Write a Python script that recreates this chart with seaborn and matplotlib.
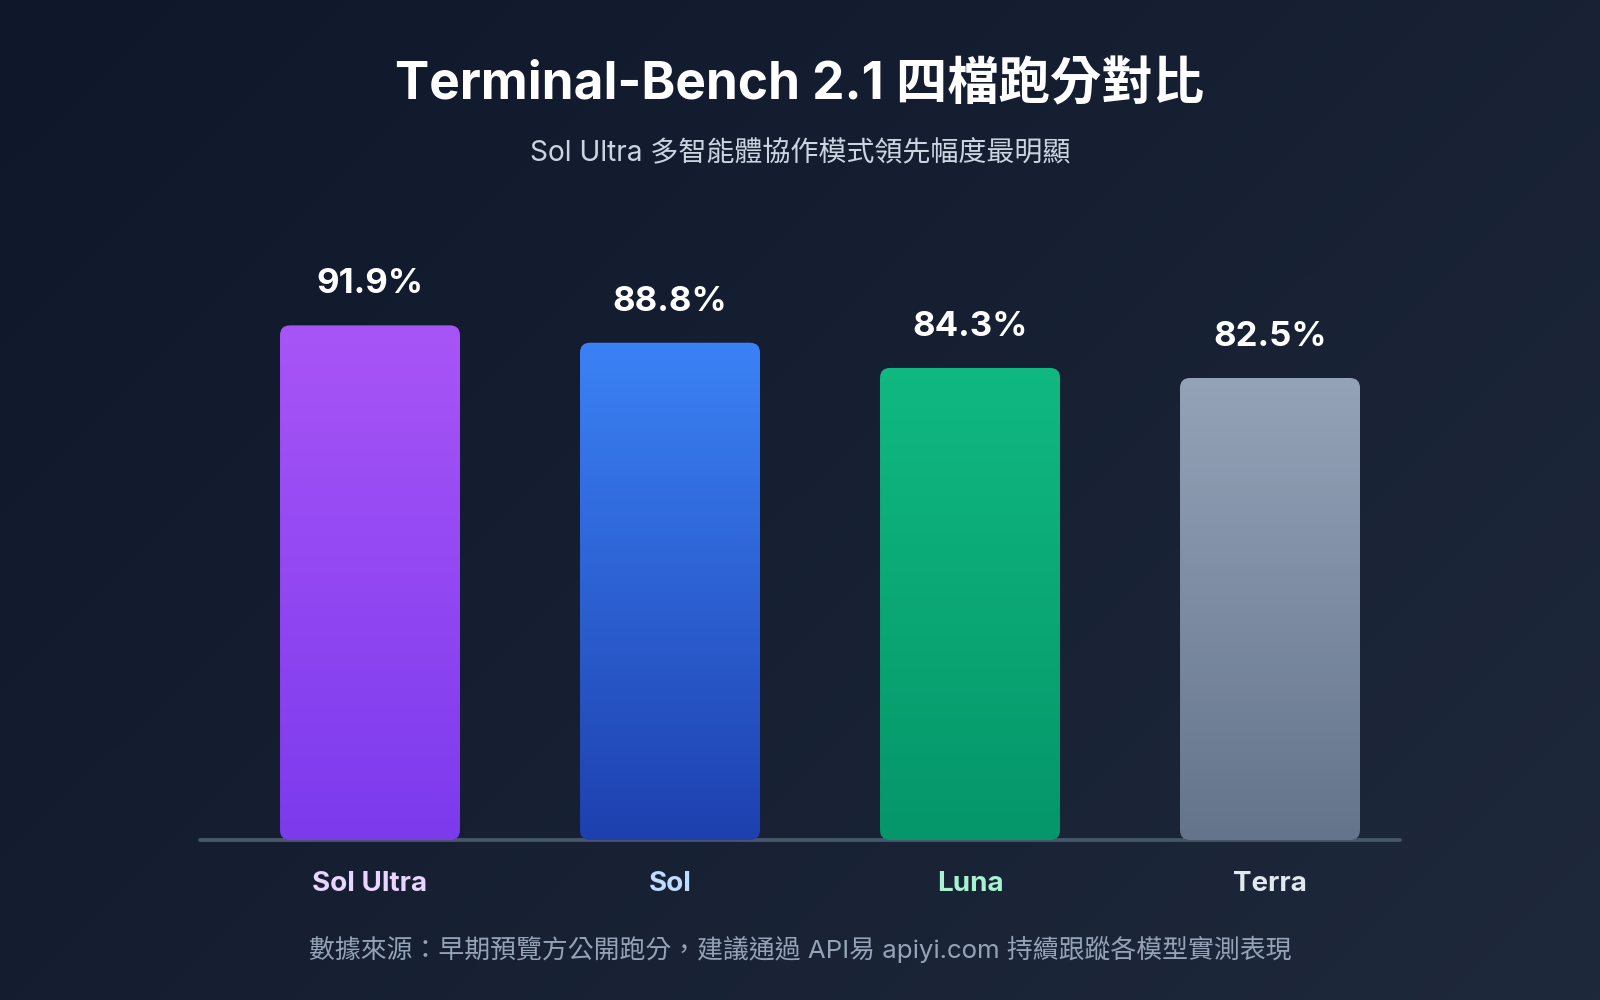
import numpy as np
import pandas as pd
import matplotlib
matplotlib.use("Agg")
import matplotlib.pyplot as plt
import seaborn as sns
from matplotlib.patches import FancyBboxPatch
from matplotlib.colors import LinearSegmentedColormap

# ---- data ----
models = ["Sol Ultra", "Sol", "Luna", "Terra"]
scores = [91.9, 88.8, 84.3, 82.5]
top_colors = ["#a855f7", "#3b82f6", "#10b981", "#94a3b8"]
bottom_colors = ["#7c3aed", "#1e40af", "#059669", "#64748b"]
label_colors = ["#e9d5ff", "#bfdbfe", "#a7f3d0", "#e2e8f0"]
title = "Terminal-Bench 2.1 四檔跑分對比"
subtitle = "Sol Ultra 多智能體協作模式領先幅度最明顯"
footer = "數據來源：早期預覽方公開跑分，建議通過 API易 apiyi.com 持續跟蹤各模型實測表現"

sns.set_theme(style="white")
plt.rcParams["font.family"] = ["Inter", "Noto Sans CJK TC", "DejaVu Sans"]

W, H = 1600, 1000
fig = plt.figure(figsize=(W / 100, H / 100), dpi=100)

# background diagonal gradient
bg = fig.add_axes([0, 0, 1, 1], zorder=-10)
yy, xx = np.mgrid[0:1:250j, 0:1:400j]
t = (xx * W + yy * H) / (W + H)
bg_cmap = LinearSegmentedColormap.from_list("bg", ["#0f172a", "#1e293b"])
bg.imshow(t, cmap=bg_cmap, aspect="auto", extent=[0, 1, 0, 1], origin="upper")
bg.set_axis_off()

# main axes
ax_left, ax_bottom, ax_w, ax_h = 200 / W, (H - 840) / H, 1200 / W, 560 / H
ax = fig.add_axes([ax_left, ax_bottom, ax_w, ax_h])
ax.set_facecolor("none")

df = pd.DataFrame({"model": models, "score": scores})
sns.barplot(data=df, x="model", y="score", ax=ax, width=0.6, color="#888888")

xlim = (-0.5667, 3.4333)
ylim = (0, 100)

xupp = (xlim[1] - xlim[0]) / 1200
yupp = (ylim[1] - ylim[0]) / 560
aspect = yupp / xupp
radius_px = 10

bars = list(ax.patches)
for i, p in enumerate(bars):
    x0, y0 = p.get_x(), p.get_y()
    w, h = p.get_width(), p.get_height()
    p.set_visible(False)
    rp = FancyBboxPatch((x0, y0), w, h,
                        boxstyle=f"round,pad=0,rounding_size={radius_px * xupp}",
                        mutation_aspect=aspect, facecolor="none",
                        edgecolor="none", zorder=2)
    ax.add_patch(rp)
    cmap = LinearSegmentedColormap.from_list(f"g{i}", [bottom_colors[i], top_colors[i]])
    grad = np.linspace(0, 1, 256).reshape(-1, 1)
    im = ax.imshow(grad, extent=[x0, x0 + w, y0, y0 + h], origin="lower",
                   aspect="auto", cmap=cmap, zorder=2)
    im.set_clip_path(rp)
    ax.annotate(f"{scores[i]}%", xy=(x0 + w / 2, y0 + h), xytext=(0, 23),
                textcoords="offset points", ha="center", va="baseline",
                color="white", fontsize=25, fontweight="bold")

ax.set_xlim(*xlim)
ax.set_ylim(*ylim)
ax.axhline(0, color="#475569", lw=2.8, zorder=1, clip_on=False)

for s in ax.spines.values():
    s.set_visible(False)
ax.set_yticks([])
ax.set_xlabel("")
ax.set_ylabel("")
ax.set_xticks(range(len(models)))
ax.set_xticklabels(models, fontsize=20, fontweight="bold")
for lbl, c in zip(ax.get_xticklabels(), label_colors):
    lbl.set_color(c)
ax.tick_params(axis="x", length=0, pad=22)

fig.text(0.5, 1 - 99 / H, title, ha="center", va="baseline", color="white",
         fontsize=37, fontweight="bold")
fig.text(0.5, 1 - 161 / H, subtitle, ha="center", va="baseline", color="#cbd5e1",
         fontsize=20.2)
fig.text(0.5, 1 - 958 / H, footer, ha="center", va="baseline", color="#94a3b8",
         fontsize=18.6)

fig.savefig("out.png", dpi=100, facecolor="#0f172a")
